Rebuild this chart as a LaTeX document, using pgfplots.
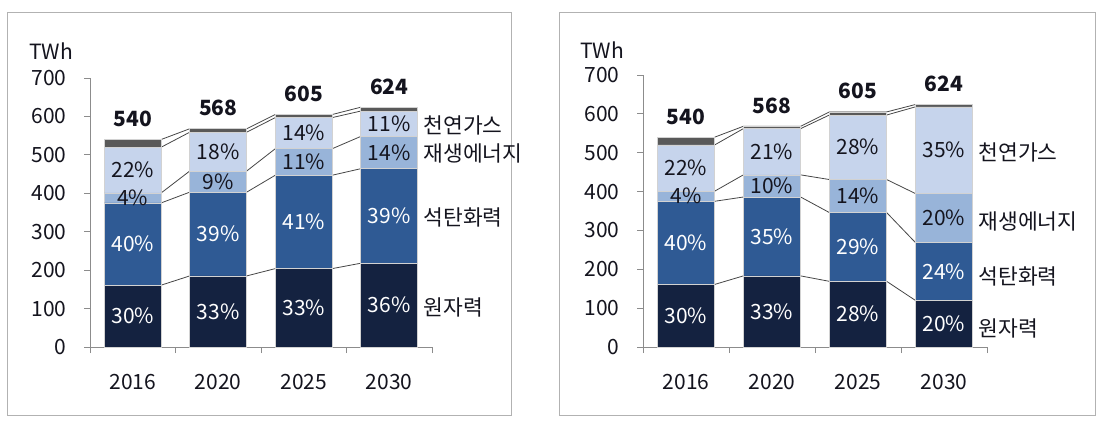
\documentclass[border=0pt]{standalone}
\usepackage{pgfplots}
\pgfplotsset{compat=1.18}
\usepackage{fontspec}
\setmainfont{Noto Sans CJK KR}
\definecolor{cNuc}{RGB}{20,34,64}
\definecolor{cCoal}{RGB}{47,90,148}
\definecolor{cRen}{RGB}{152,180,217}
\definecolor{cGas}{RGB}{198,212,236}
\definecolor{cOth}{RGB}{89,89,89}
\definecolor{cLine}{RGB}{70,70,70}
\definecolor{cAx}{RGB}{140,140,140}
\definecolor{cTxt}{RGB}{20,20,30}
\newcommand{\fs}{\fontsize{21}{25}\selectfont}
\newcommand{\fk}{\fontsize{21.5}{25}\selectfont}
\pgfplotsset{
 panel/.style={
  scale only axis,
  xmin=-0.5, xmax=3.5, ymin=0, ymax=700,
  axis x line=bottom, axis y line=left,
  axis line style={draw=cAx, -, line width=0.8pt},
  xtick={0,1,2,3}, xticklabels={2016,2020,2025,2030},
  minor xtick={-0.5,0.5,1.5,2.5,3.5},
  major x tick style={draw=none},
  minor x tick style={draw=cAx, line width=0.8pt},
  ytick={0,100,...,700},
  y tick style={draw=cAx, line width=0.8pt},
  tick align=outside, major tick length=6pt, minor tick length=6pt,
  tick label style={font=\fs, text=cTxt},
  /pgf/number format/assume math mode=true,
  yticklabel style={xshift=-14pt},
  xticklabel style={yshift=-18pt},
  clip=false,
 },
 bars/.style={ybar, bar width=0.667, bar shift=0pt, draw=gray!35, line width=0.6pt, fill=#1},
 sline/.style={sharp plot, draw=cLine, line width=0.8pt, mark=none},
 lab/.style={draw=none, mark=none, nodes near coords, point meta=explicit symbolic,
   every node near coord/.append style={anchor=center, font=\fs, text=#1, inner sep=0pt}},
 side/.style={draw=none, mark=none, nodes near coords, point meta=explicit symbolic,
   every node near coord/.append style={anchor=west, font=\fk, text=cTxt, inner sep=0pt}},
 tot/.style={draw=none, mark=none, nodes near coords, point meta=explicit symbolic,
   every node near coord/.append style={anchor=base, yshift=13pt, font=\fs\bfseries, text=cTxt, inner sep=0pt}},
}
\begin{document}
\begin{tikzpicture}[x=1pt,y=1pt]
\path[use as bounding box] (0pt,0pt) rectangle (1098pt,432pt);
\draw[draw=gray!60, line width=1pt] (7pt,419pt) rectangle (511pt,17pt);
\draw[draw=gray!60, line width=1pt] (559pt,419pt) rectangle (1095pt,17pt);
% ---------------- left panel ----------------
\begin{axis}[panel, at={(90pt,85pt)}, anchor=south west, width=342pt, height=269pt,
  ylabel={TWh}, ylabel style={rotate=-90, at={(rel axis cs:0,1)}, anchor=center, xshift=-39pt, yshift=27pt, font=\fs, text=cTxt, inner sep=0pt}]
\addplot[sline] coordinates {(0.333,161)(0.667,185)(1.333,185)(1.667,204)(2.333,204)(2.667,218)};
\addplot[sline] coordinates {(0.333,375)(0.667,403)(1.333,403)(1.667,447)(2.333,447)(2.667,464)};
\addplot[sline] coordinates {(0.333,401)(0.667,458)(1.333,458)(1.667,516)(2.333,516)(2.667,548)};
\addplot[sline] coordinates {(0.333,520)(0.667,559)(1.333,559)(1.667,597)(2.333,597)(2.667,614)};
\addplot[sline] coordinates {(0.333,540)(0.667,568)(1.333,568)(1.667,605)(2.333,605)(2.667,624)};
\addplot[bars=cOth] coordinates {(0,540)(1,568)(2,605)(3,624)};
\addplot[bars=cGas] coordinates {(0,520)(1,559)(2,597)(3,614)};
\addplot[bars=cRen] coordinates {(0,401)(1,458)(2,516)(3,548)};
\addplot[bars=cCoal] coordinates {(0,375)(1,403)(2,447)(3,464)};
\addplot[bars=cNuc] coordinates {(0,161)(1,185)(2,204)(3,218)};
\addplot[lab=white] coordinates {(0,80.5)[30\%] (1,92.5)[33\%] (2,102)[33\%] (3,109)[36\%]
  (0,268)[40\%] (1,294)[39\%] (2,325.5)[41\%] (3,341)[39\%]};
\addplot[lab=cTxt] coordinates {(0,388)[4\%] (1,430.5)[9\%] (2,481.5)[11\%] (3,506)[14\%]
  (0,460.5)[22\%] (1,508.5)[18\%] (2,556.5)[14\%] (3,581)[11\%]};
\addplot[tot] coordinates {(0,540)[540] (1,568)[568] (2,605)[605] (3,624)[624]};
\addplot[side] coordinates {(3.4,577)[천연가스] (3.4,504)[재생에너지] (3.4,338)[석탄화력] (3.4,104)[원자력]};
\end{axis}
% ---------------- right panel ----------------
\begin{axis}[panel, at={(643pt,85pt)}, anchor=south west, width=344pt, height=272pt,
  ylabel={TWh}, ylabel style={rotate=-90, at={(rel axis cs:0,1)}, anchor=center, xshift=-41pt, yshift=25pt, font=\fs, text=cTxt, inner sep=0pt}]
\addplot[sline] coordinates {(0.333,161)(0.667,183)(1.333,183)(1.667,169)(2.333,169)(2.667,120)};
\addplot[sline] coordinates {(0.333,375)(0.667,386)(1.333,386)(1.667,346)(2.333,346)(2.667,269)};
\addplot[sline] coordinates {(0.333,401)(0.667,443)(1.333,443)(1.667,431)(2.333,431)(2.667,395)};
\addplot[sline] coordinates {(0.333,520)(0.667,562)(1.333,562)(1.667,597)(2.333,597)(2.667,618)};
\addplot[sline] coordinates {(0.333,540)(0.667,568)(1.333,568)(1.667,605)(2.333,605)(2.667,624)};
\addplot[bars=cOth] coordinates {(0,540)(1,568)(2,605)(3,624)};
\addplot[bars=cGas] coordinates {(0,520)(1,562)(2,597)(3,618)};
\addplot[bars=cRen] coordinates {(0,401)(1,443)(2,431)(3,395)};
\addplot[bars=cCoal] coordinates {(0,375)(1,386)(2,346)(3,269)};
\addplot[bars=cNuc] coordinates {(0,161)(1,183)(2,169)(3,120)};
\addplot[lab=white] coordinates {(0,80.5)[30\%] (1,91.5)[33\%] (2,84.5)[28\%] (3,60)[20\%]
  (0,268)[40\%] (1,284.5)[35\%] (2,257.5)[29\%] (3,194.5)[24\%]};
\addplot[lab=cTxt] coordinates {(0,388)[4\%] (1,414.5)[10\%] (2,388.5)[14\%] (3,332)[20\%]
  (0,460.5)[22\%] (1,502.5)[21\%] (2,514)[28\%] (3,506.5)[35\%]};
\addplot[tot] coordinates {(0,540)[540] (1,568)[568] (2,605)[605] (3,624)[624]};
\addplot[side] coordinates {(3.4,502)[천연가스] (3.4,322)[재생에너지] (3.4,181)[석탄화력] (3.4,49)[원자력]};
\end{axis}
\end{tikzpicture}
\end{document}
